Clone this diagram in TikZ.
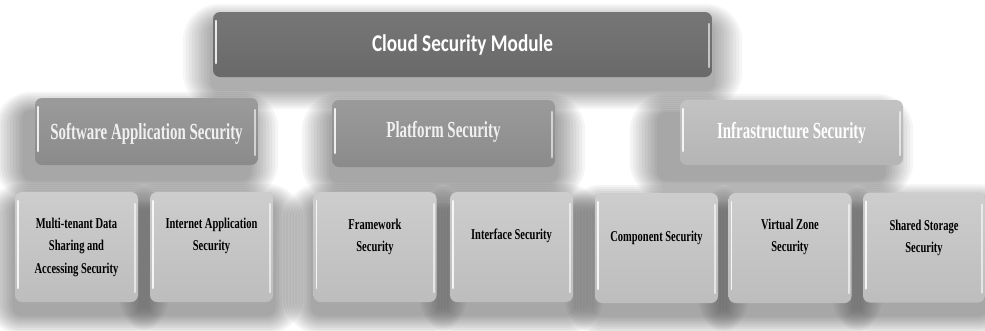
\documentclass[tikz,border=0pt]{standalone}
\usepackage{fontspec}
\newfontfamily\topfont[FakeStretch=0.8]{Carlito}
\newfontfamily\midfont[FakeStretch=0.65]{Liberation Serif}
\newfontfamily\leaffont[FakeStretch=0.7]{Liberation Serif}
\usetikzlibrary{backgrounds}
\definecolor{topgray}{HTML}{6F6F6F}
\definecolor{midgray}{HTML}{929292}
\definecolor{infragray}{HTML}{BCBCBC}
\definecolor{leaftop}{HTML}{CDCDCD}
\definecolor{leafbot}{HTML}{BDBDBD}
\tikzset{
  glass/.style={rounded corners=7pt, inner sep=0pt},
  topbox/.style={glass, top color=topgray!95!white, bottom color=topgray!95!black, minimum width=499pt, minimum height=65pt, text=white, font=\topfont\bfseries\fontsize{24}{26}\selectfont},
  midbox/.style={glass, top color=midgray!92!white, bottom color=midgray!95!black, minimum width=223pt, minimum height=67pt},
  infrabox/.style={glass, top color=infragray!90!white, bottom color=infragray!96!black, minimum width=223pt, minimum height=65pt},
  leafbox/.style={glass, top color=leaftop, bottom color=leafbot, minimum width=123pt, minimum height=110pt},
  midtext/.style={text=white!94!black, font=\midfont\bfseries\fontsize{23}{25}\selectfont},
  leaftext/.style={align=center, text=black, font=\leaffont\bfseries\fontsize{15}{22.5}\selectfont},
  hl/.style={white, line width=1.6pt, opacity=0.85, line cap=round},
}
\newcommand{\softshadow}[4]{%
  \foreach \i in {1,...,10}{%
    \fill[black, opacity=#4, rounded corners={7pt+\i*3pt}]
      ([shift={({-\i*3+#2},{-\i*2+#3})}]#1.north west) rectangle
      ([shift={({\i*3+#2},{\i*2+#3})}]#1.south east);
  }%
}
\begin{document}
\begin{tikzpicture}[x=1pt,y=-1pt]
\useasboundingbox (0,0) rectangle (985,330);

% level 1
\node[topbox] (cloud) at (462.5,44.5) {Cloud Security Module};
% level 2
\node[midbox] (soft) at (146.5,131.5) {};
\node[midbox] (plat) at (443.5,133.5) {};
\node[infrabox] (infra) at (791.5,132.5) {};
\node[midtext] (softt) at (146.5,134) {Software Application Security};
\node[midtext] (platt) at (443.5,132) {Platform Security};
\node[midtext, text=white] (infrat) at (791.5,133) {Infrastructure Security};
% leaves
\node[leafbox] (multi) at (76.5,247) {};
\node[leafbox] (inet) at (211.5,247) {};
\node[leafbox] (frame) at (375,247) {};
\node[leafbox] (iface) at (511.5,247) {};
\node[leafbox] (comp) at (656.5,248) {};
\node[leafbox] (virt) at (790,248) {};
\node[leafbox, minimum width=122pt] (shared) at (924,247.5) {};
\node[leaftext] (multit) at (76.5,247) {Multi-tenant Data\\Sharing and\\Accessing Security};
\node[leaftext] (inett) at (211.5,236) {Internet Application\\Security};
\node[leaftext] (framet) at (375,237) {Framework\\Security};
\node[leaftext] (ifacet) at (511.5,236) {Interface Security};
\node[leaftext] (compt) at (656.5,238) {Component Security};
\node[leaftext] (virtt) at (790,237) {Virtual Zone\\Security};
\node[leaftext] (sharedt) at (924,238) {Shared Storage\\Security};

% glass highlights
\foreach \n in {cloud,soft,plat,infra,multi,inet,frame,iface,comp,virt,shared}{
  \draw[hl] ([xshift=3pt,yshift=-9pt]\n.north west) -- ([xshift=3pt,yshift=14pt]\n.south west);
  \draw[hl, opacity=0.6] ([xshift=-3pt,yshift=-12pt]\n.north east) -- ([xshift=-3pt,yshift=10pt]\n.south east);
}

\begin{pgfonlayer}{background}
  \fill[white] (0,0) rectangle (985,330);
  \softshadow{cloud}{0}{12}{0.035}
  \softshadow{soft}{-10}{14}{0.04}
  \softshadow{plat}{0}{14}{0.04}
  \softshadow{infra}{-20}{14}{0.04}
  \foreach \n in {multi,inet,frame,iface,comp,virt,shared}{
    \softshadow{\n}{0}{12}{0.04}
  }
\end{pgfonlayer}
\end{tikzpicture}
\end{document}
